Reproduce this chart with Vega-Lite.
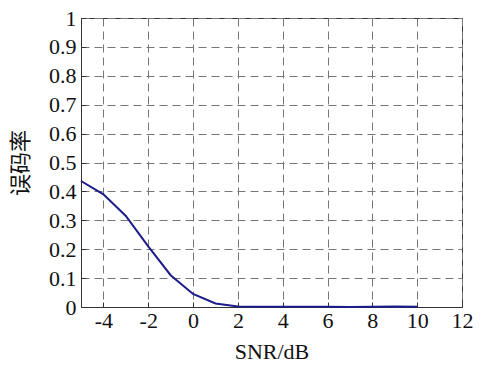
{
  "$schema": "https://vega.github.io/schema/vega-lite/v6.json",
  "autosize": "none",
  "width": 381,
  "height": 289,
  "padding": {"left": 81, "top": 18, "right": 24, "bottom": 60},
  "background": "white",
  "config": {
    "view": {"stroke": "#333333", "strokeWidth": 1},
    "axis": {
      "labelFont": "Liberation Serif",
      "labelFontSize": 22,
      "labelColor": "#111111",
      "titleFont": "Liberation Serif",
      "titleFontSize": 22,
      "titleFontWeight": "normal",
      "titleColor": "#111111",
      "domainColor": "#333333",
      "tickColor": "#333333",
      "tickSize": -5,
      "gridColor": "#777777",
      "gridDash": [8, 5],
      "gridOpacity": 1,
      "gridWidth": 1
    }
  },
  "data": {
    "values": [
      {"snr": -5, "ber": 0.436},
      {"snr": -4, "ber": 0.39},
      {"snr": -3, "ber": 0.315},
      {"snr": -2, "ber": 0.21},
      {"snr": -1, "ber": 0.11},
      {"snr": 0, "ber": 0.045},
      {"snr": 1, "ber": 0.012},
      {"snr": 2, "ber": 0.002},
      {"snr": 3, "ber": 0.001},
      {"snr": 4, "ber": 0.0005},
      {"snr": 5, "ber": 0.001},
      {"snr": 6, "ber": 0.0005},
      {"snr": 7, "ber": 0.0003},
      {"snr": 8, "ber": 0.0005},
      {"snr": 9, "ber": 0.0015},
      {"snr": 10, "ber": 0.0005}
    ]
  },
  "mark": {"type": "line", "color": "#1c1c8a", "strokeWidth": 2},
  "encoding": {
    "x": {
      "field": "snr",
      "type": "quantitative",
      "scale": {"domain": [-5, 12], "nice": false, "zero": false},
      "axis": {"values": [-4, -2, 0, 2, 4, 6, 8, 10, 12], "labelExpr": "'' + datum.value", "title": "SNR/dB", "labelPadding": 8, "titlePadding": 10, "labelFlush": false}
    },
    "y": {
      "field": "ber",
      "type": "quantitative",
      "scale": {"domain": [0, 1], "nice": false},
      "axis": {
        "values": [0, 0.1, 0.2, 0.3, 0.4, 0.5, 0.6, 0.7, 0.8, 0.9, 1],
        "labelExpr": "'' + datum.value",
        "title": "误码率",
        "titleFont": "Noto Sans CJK SC",
        "titleFontSize": 22,
        "labelPadding": 10,
        "titlePadding": 16,
        "labelFlush": false
      }
    }
  }
}
